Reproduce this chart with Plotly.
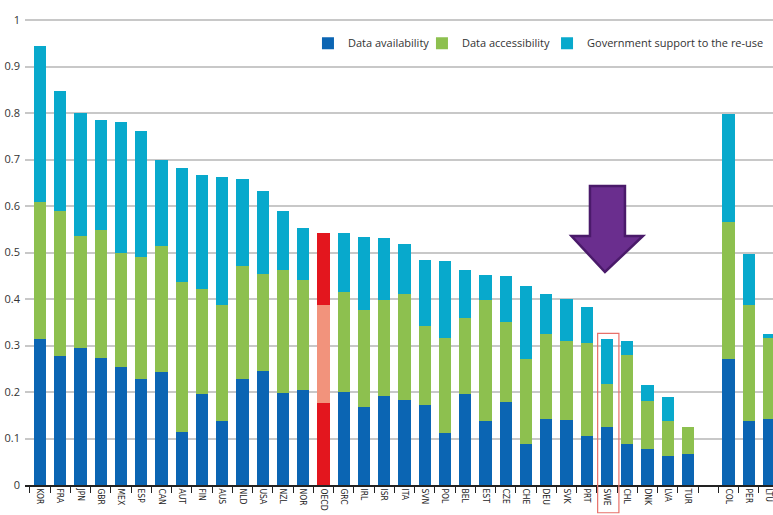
import plotly.graph_objects as go

countries = ["KOR", "FRA", "JPN", "GBR", "MEX", "ESP", "CAN", "AUT", "FIN", "AUS", "NLD",
             "USA", "NZL", "NOR", "OECD", "GRC", "IRL", "ISR", "ITA", "SVN", "POL", "BEL",
             "EST", "CZE", "CHE", "DEU", "SVK", "PRT", "SWE", "CHL", "DNK", "LVA", "TUR",
             " ", "COL", "PER", "LTU"]

# cumulative tops
blue_top = [0.313, 0.277, 0.295, 0.274, 0.254, 0.227, 0.242, 0.114, 0.195, 0.137, 0.229,
            0.245, 0.197, 0.204, 0.177, 0.199, 0.167, 0.192, 0.183, 0.172, 0.111, 0.195,
            0.137, 0.179, 0.089, 0.142, 0.139, 0.105, 0.125, 0.089, 0.077, 0.062, 0.067,
            None, 0.270, 0.137, 0.142]
green_top = [0.608, 0.589, 0.536, 0.549, 0.499, 0.490, 0.515, 0.436, 0.422, 0.388, 0.472,
             0.454, 0.463, 0.440, 0.388, 0.415, 0.377, 0.397, 0.411, 0.342, 0.317, 0.360,
             0.397, 0.350, 0.272, 0.324, 0.310, 0.305, 0.217, 0.280, 0.180, 0.137, 0.125,
             None, 0.565, 0.388, 0.317]
total_top = [0.944, 0.848, 0.799, 0.785, 0.780, 0.762, 0.699, 0.682, 0.667, 0.662, 0.658,
             0.632, 0.589, 0.552, 0.541, 0.541, 0.534, 0.532, 0.519, 0.483, 0.481, 0.463,
             0.452, 0.449, 0.429, 0.411, 0.400, 0.383, 0.315, 0.310, 0.215, 0.190, 0.125,
             None, 0.798, 0.497, 0.324]

y_ticks = [0, 0.1, 0.2, 0.3, 0.4, 0.5, 0.6, 0.7, 0.8, 0.9, 1]
y_tick_labels = ["0", "0.1", "0.2", "0.3", "0.4", "0.5", "0.6", "0.7", "0.8", "0.9", "1"]

series_names = ["Data availability", "Data accessibility", "Government support to the re-use"]

availability = blue_top
accessibility = [None if g is None else round(g - b, 3) for g, b in zip(green_top, blue_top)]
gov_support = [None if t is None else round(t - g, 3) for t, g in zip(total_top, green_top)]

BLUE = "#0b65b3"
GREEN = "#8dc04f"
CYAN = "#08a9cc"
RED = "#e3161e"
PINK = "#f2937c"

def colors(base, oecd):
    return [oecd if c == "OECD" else base for c in countries]

fig = go.Figure()
fig.add_trace(go.Bar(x=countries, y=availability, name=series_names[0], legend="legend",
                     marker=dict(color=colors(BLUE, RED), line=dict(width=0))))
fig.add_trace(go.Bar(x=countries, y=accessibility, name=series_names[1], legend="legend2",
                     marker=dict(color=colors(GREEN, PINK), line=dict(width=0))))
fig.add_trace(go.Bar(x=countries, y=gov_support, name=series_names[2], legend="legend3",
                     marker=dict(color=colors(CYAN, RED), line=dict(width=0))))

swe = countries.index("SWE")
X_RANGE = [-0.74, 36.2]

# purple arrow pointing at SWE (data-anchored)
def ax(px_off):
    return swe + px_off / 20.25

arrow_path = (f"M {ax(-17)},0.643 L {ax(18)},0.643 L {ax(18)},0.5355 "
              f"L {ax(36)},0.5355 L {ax(-2)},0.458 L {ax(-35.5)},0.5355 "
              f"L {ax(-17)},0.5355 Z")
fig.add_shape(type="path", path=arrow_path, xref="x", yref="y",
              fillcolor="#6a2e8e", line=dict(color="#4a1a6a", width=2.5), layer="above")

# red highlight rectangle around SWE (paper coords so it can extend below the axis)
def to_paper(v):
    return (v - X_RANGE[0]) / (X_RANGE[1] - X_RANGE[0])

fig.add_shape(type="rect", xref="paper", yref="paper",
              x0=to_paper(swe - 0.46), x1=to_paper(swe + 0.59), y0=-0.059, y1=0.3228,
              line=dict(color="#e8706a", width=1.2), fillcolor="rgba(0,0,0,0)", layer="above")

leg_common = dict(orientation="h", xanchor="left", y=0.94, yanchor="middle",
                  bgcolor="rgba(255,255,255,0)", font=dict(size=11, color="#333333"),
                  itemwidth=30)

fig.update_layout(
    barmode="stack",
    bargap=0.4,
    width=773, height=515,
    margin=dict(l=25, r=0, t=15, b=30, autoexpand=False),
    plot_bgcolor="white", paper_bgcolor="white",
    font=dict(family="Open Sans, Arial, sans-serif", color="#333333"),
    legend=dict(x=0.3783, **leg_common),
    legend2=dict(x=0.5307, **leg_common),
    legend3=dict(x=0.6979, **leg_common),
    showlegend=True,
)
fig.update_xaxes(
    type="category", range=X_RANGE,
    tickangle=90, tickfont=dict(size=8.5, color="#222222",
                                family="Liberation Sans Narrow, Arial Narrow, DejaVu Sans Condensed, sans-serif"),
    ticks="outside", tickson="boundaries", ticklen=6, tickcolor="#222222",
    showline=True, linecolor="#222222", linewidth=1.5,
    showgrid=False, fixedrange=True, automargin=False,
)
fig.update_yaxes(
    range=[0, 470 / 465], tickvals=y_ticks, ticktext=y_tick_labels,
    tickfont=dict(size=11, color="#333333"),
    showgrid=True, gridcolor="#c8c8c8", gridwidth=1.5,
    zeroline=False, showline=False, ticks="", ticklabelstandoff=4,
    automargin=False,
)
fig.write_html("out.html", config={"displayModeBar": False},
               post_script="document.body.style.margin='0';")
